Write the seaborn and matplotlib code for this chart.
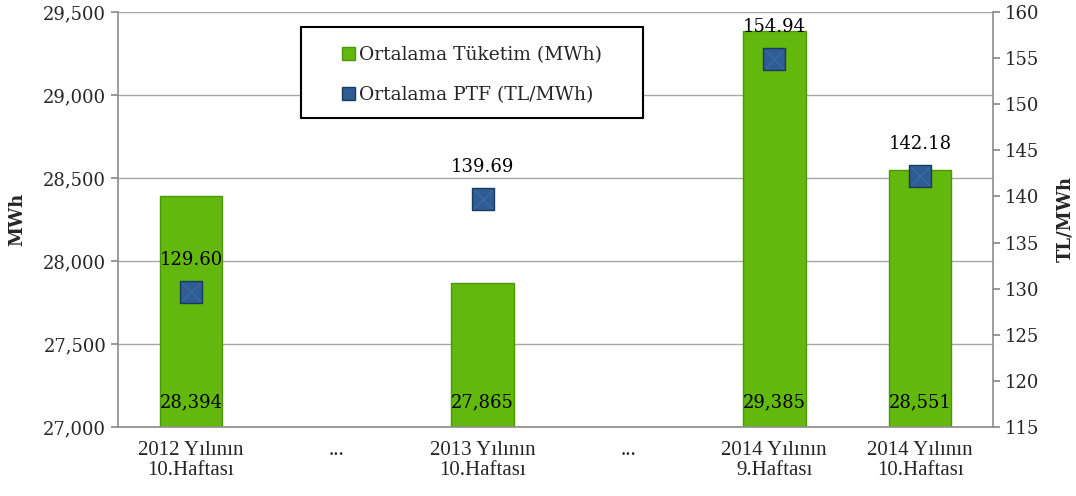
"""Weekly average consumption vs. average PTF, bar + marker dual-axis chart."""

import matplotlib
matplotlib.use("Agg")
import matplotlib.pyplot as plt
from matplotlib.patches import Patch, Rectangle
import pandas as pd
import seaborn as sns

# category slots (gaps shown as "...")
SLOTS = ["2012-10", "gap1", "2013-10", "gap2", "2014-09", "2014-10"]
TICK_LABELS = [
    "2012 Yılının\n10.Haftası", "...", "2013 Yılının\n10.Haftası",
    "...", "2014 Yılının\n9.Haftası", "2014 Yılının\n10.Haftası",
]
WEEKS = ["2012-10", "2013-10", "2014-09", "2014-10"]
CONSUMPTION = [28394, 27865, 29385, 28551]   # MWh
PTF = [129.60, 139.69, 154.94, 142.18]       # TL/MWh

BAR_COLOR = "#62b80c"
BAR_EDGE = "#4c9607"
MARK_COLOR = "#2e5c93"
MARK_EDGE = "#1c3a60"
AXIS_GREY = "#8c8c8c"

sns.set_theme(style="white")
plt.rcParams["font.family"] = ["DejaVu Serif", "DejaVu Sans"]

df = pd.DataFrame({"week": WEEKS, "consumption": CONSUMPTION, "ptf": PTF})
df["pos"] = [SLOTS.index(w) for w in WEEKS]

fig, ax = plt.subplots(figsize=(10.76, 4.96), dpi=100)
fig.subplots_adjust(left=118 / 1076, right=993 / 1076, top=1 - 12 / 496, bottom=1 - 427 / 496)

sns.barplot(data=df, x="week", y="consumption", order=SLOTS, width=0.43,
            color=BAR_COLOR, edgecolor=BAR_EDGE, linewidth=1.0, saturation=1,
            ax=ax, zorder=2)
ax.set_ylim(27000, 29500)
ax.set_xlim(-0.5, len(SLOTS) - 0.5)
ax.set_yticks(range(27000, 29501, 500))
ax.set_yticklabels([f"{v:,}" for v in range(27000, 29501, 500)])
ax.yaxis.grid(True, color="#a6a6a6", linewidth=1.0, zorder=0)
ax.set_axisbelow(True)

ax.set_xticks(range(len(SLOTS)))
ax.set_xticklabels(TICK_LABELS, family="Liberation Serif", fontsize=15, linespacing=1.05)
ax.set_xticks([i - 0.5 for i in range(len(SLOTS) + 1)], minor=True)
ax.tick_params(axis="x", which="major", length=0, pad=10)
ax.tick_params(axis="x", which="minor", length=5, color=AXIS_GREY, direction="out")
ax.tick_params(axis="y", length=5, color=AXIS_GREY, direction="out", labelsize=13, left=True)
ax.set_xlabel("")
ax.set_ylabel("MWh", fontweight="bold", fontsize=13, labelpad=12)

for side in ["top", "right"]:
    ax.spines[side].set_visible(False)
for side in ["left", "bottom"]:
    ax.spines[side].set_color(AXIS_GREY)
    ax.spines[side].set_linewidth(1.2)

for x, v in zip(df["pos"], df["consumption"]):
    ax.annotate(f"{v:,}", xy=(x, 27000), xytext=(0, 18), textcoords="offset points",
                ha="center", va="center", fontsize=13, color="black", zorder=5)

ax2 = ax.twinx()
sns.scatterplot(data=df, x="pos", y="ptf", marker="s", s=250, color=MARK_COLOR,
                edgecolor=MARK_EDGE, linewidth=1.0, ax=ax2, zorder=4, legend=False)
sns.scatterplot(data=df, x="pos", y="ptf", marker="x", s=170, color="#3d6ca5",
                linewidth=0.8, ax=ax2, zorder=5, legend=False)
ax2.set_ylim(115, 160)
ax2.set_yticks(range(115, 161, 5))
ax2.set_xlim(-0.5, len(SLOTS) - 0.5)
ax2.set_xlabel("")
ax2.set_ylabel("TL/MWh", fontweight="bold", fontsize=13, labelpad=12)
ax2.tick_params(axis="y", length=5, color=AXIS_GREY, direction="out", labelsize=13, right=True)
for side in ["top", "left", "bottom"]:
    ax2.spines[side].set_visible(False)
ax2.spines["right"].set_color(AXIS_GREY)
ax2.spines["right"].set_linewidth(1.2)

for x, v in zip(df["pos"], df["ptf"]):
    ax2.annotate(f"{v:.2f}", xy=(x, v), xytext=(0, 23), textcoords="offset points",
                 ha="center", va="center", fontsize=13, color="black", zorder=6)

# legend box
fig.patches.append(Rectangle((301 / 1076, 1 - 118 / 496), 342 / 1076, 91 / 496,
                             transform=fig.transFigure, facecolor="white",
                             edgecolor="black", linewidth=1.5, zorder=4))
handles = [
    Patch(facecolor=BAR_COLOR, edgecolor=BAR_EDGE),
    Patch(facecolor=MARK_COLOR, edgecolor=MARK_EDGE),
]
fig.legend(handles, ["Ortalama Tüketim (MWh)", "Ortalama PTF (TL/MWh)"],
           loc="center", bbox_to_anchor=(472 / 1076, 1 - 75 / 496), frameon=False,
           fontsize=13.5, handlelength=0.7, handleheight=0.7, handletextpad=0.2,
           labelspacing=1.15)

fig.savefig("out.png", dpi=100)
